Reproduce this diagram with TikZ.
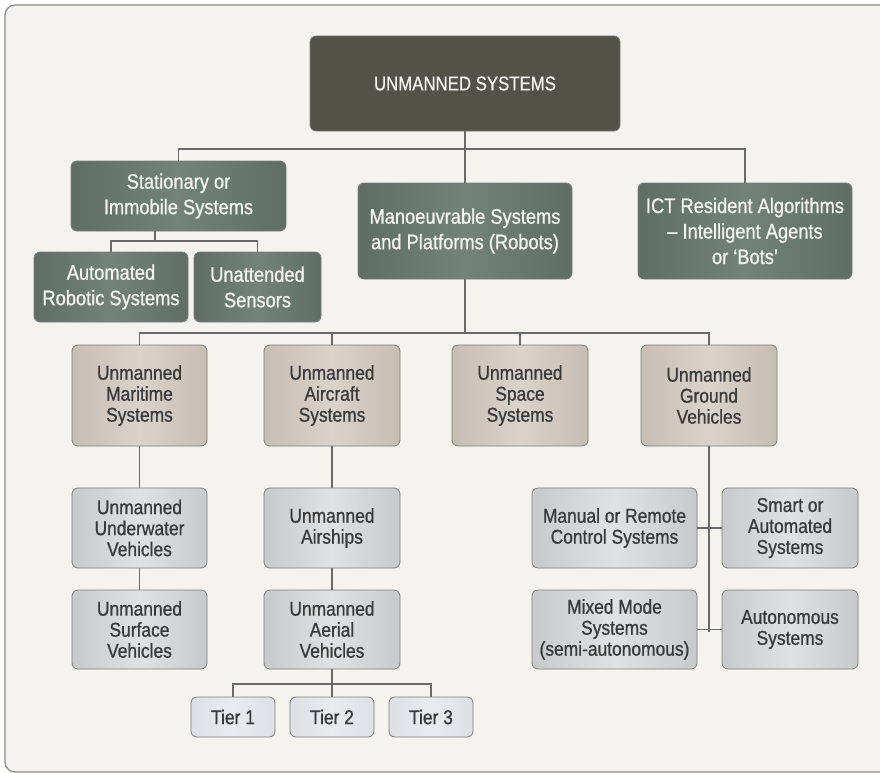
\documentclass[tikz,border=0pt]{standalone}
\usepackage{fontspec}
\setmainfont{Liberation Sans}[FakeStretch=0.87, FakeBold=0.8]
\newfontfamily\titlefont{Liberation Sans}[FakeStretch=0.84, FakeBold=0.6]

\definecolor{paper}{HTML}{F4F3EE}
\definecolor{framegray}{HTML}{8C8C8C}
\definecolor{linegray}{HTML}{6A6A6A}
\definecolor{boxedge}{HTML}{7C7C7C}
\definecolor{topfill}{HTML}{525249}
\definecolor{greenedge}{HTML}{5F6E65}
\definecolor{greenmid}{HTML}{748379}
\definecolor{tanedge}{HTML}{C6BDB3}
\definecolor{tanmid}{HTML}{DAD3CC}
\definecolor{grayedge}{HTML}{C8C9CB}
\definecolor{graymid}{HTML}{E0E1E2}
\definecolor{tieredge}{HTML}{DEDFE2}
\definecolor{tiermid}{HTML}{EAEBED}
\definecolor{lighttext}{HTML}{F3F3EE}
\definecolor{darktext}{HTML}{3A3A3A}

\tikzset{
  x=1pt, y=-1pt,
  boxbase/.style={rounded corners=6pt, draw=boxedge, line width=0.8pt,
    align=center, inner sep=0pt, anchor=center},
  topbox/.style={boxbase, fill=topfill, text=lighttext,
    font=\titlefont\fontsize{20}{25}\selectfont},
  greenbox/.style={boxbase, left color=greenedge, right color=greenedge,
    middle color=greenmid, text=lighttext, font=\fontsize{21}{25.5}\selectfont},
  tanbox/.style={boxbase, left color=tanedge, right color=tanedge,
    middle color=tanmid, text=darktext, font=\fontsize{20}{21}\selectfont},
  graybox/.style={boxbase, left color=grayedge, right color=grayedge,
    middle color=graymid, text=darktext, font=\fontsize{20}{21}\selectfont},
  tierbox/.style={boxbase, left color=tieredge, right color=tieredge,
    middle color=tiermid, text=darktext, font=\fontsize{20}{21}\selectfont},
  link/.style={draw=linegray, line width=1.2pt},
  dims/.style 2 args={minimum width=#1pt, minimum height=#2pt},
}

\begin{document}
\begin{tikzpicture}
\useasboundingbox (0,0) rectangle (880,773);

% panel behind the chart
\begin{scope}
  \clip (0,0) rectangle (880,773);
  \draw[draw=framegray, line width=1.3pt, fill=paper, rounded corners=10pt]
    (5,5) rectangle (900,772);
\end{scope}

% root
\node[topbox, dims={310}{95}] (top) at (465,83.5) {UNMANNED SYSTEMS};

% first level
\node[greenbox, dims={215}{70}] (stat) at (178.5,196) {Stationary or\\Immobile Systems};
\node[greenbox, dims={214}{96}] (man) at (465,231) {Manoeuvrable Systems\\and Platforms (Robots)};
\node[greenbox, dims={214}{96}] (ict) at (745,231) {ICT Resident Algorithms\\– Intelligent Agents\\or ‘Bots’};

% stationary children
\node[greenbox, dims={154}{70}] (autorob) at (111,287) {Automated\\Robotic Systems};
\node[greenbox, dims={127}{70}] (unatt) at (257.5,287) {Unattended\\Sensors};

% platform families
\node[tanbox, dims={135}{101}] (mar) at (139.5,395.5) {Unmanned\\Maritime\\Systems};
\node[tanbox, dims={136}{101}] (air) at (332,395.5) {Unmanned\\Aircraft\\Systems};
\node[tanbox, dims={136}{101}] (space) at (520,395.5) {Unmanned\\Space\\Systems};
\node[tanbox, dims={136}{101}] (gnd) at (709,395.5) {Unmanned\\Ground\\Vehicles};

% maritime branch
\node[graybox, dims={135}{80}] (under) at (139.5,528) {Unmanned\\Underwater\\Vehicles};
\node[graybox, dims={135}{79}] (surf) at (139.5,629.5) {Unmanned\\Surface\\Vehicles};

% aircraft branch
\node[graybox, dims={136}{80}] (ships) at (332,528) {Unmanned\\Airships};
\node[graybox, dims={136}{79}] (aer) at (332,629.5) {Unmanned\\Aerial\\Vehicles};
\node[tierbox, dims={84}{40}] (tierA) at (233,717) {Tier 1};
\node[tierbox, dims={84}{40}] (tierB) at (332,717) {Tier 2};
\node[tierbox, dims={84}{40}] (tierC) at (431,717) {Tier 3};

% ground branch
\node[graybox, dims={165}{80}] (manual) at (614.5,528) {Manual or Remote\\Control Systems};
\node[graybox, dims={136}{80}] (smart) at (790,528) {Smart or\\Automated\\Systems};
\node[graybox, dims={165}{79}] (mixed) at (614.5,629.5) {Mixed Mode\\Systems\\(semi-autonomous)};
\node[graybox, dims={136}{79}] (auton) at (790,629.5) {Autonomous\\Systems};

% junction points
\coordinate (busA) at (465,149);
\coordinate (busB) at (155,241);
\coordinate (busC) at (465,333);
\coordinate (busD) at (332,684);
\coordinate (gndEnd) at (709,632);

% connectors
\path[link] (top.south) -- (man.north);
\path[link] (stat.north) |- (busA);
\path[link] (ict.north) |- (busA);

\path[link] (stat.south -| busB) -- (busB);
\path[link] (autorob.north) |- (busB);
\path[link] (unatt.north) |- (busB);

\path[link] (man.south) -- (busC);
\path[link] (mar.north) |- (busC);
\path[link] (air.north) |- (busC);
\path[link] (space.north) |- (busC);
\path[link] (gnd.north) |- (busC);

\path[link] (mar) -- (under);
\path[link] (under) -- (surf);
\path[link] (air) -- (ships);
\path[link] (ships) -- (aer);

\path[link] (aer.south) -- (tierB.north);
\path[link] (tierA.north) |- (busD);
\path[link] (tierC.north) |- (busD);

\path[link] (gnd.south) -- (gndEnd);
\path[link] (manual.east) -- (smart.west);
\path[link] (mixed.east) -- (auton.west);
\end{tikzpicture}
\end{document}
